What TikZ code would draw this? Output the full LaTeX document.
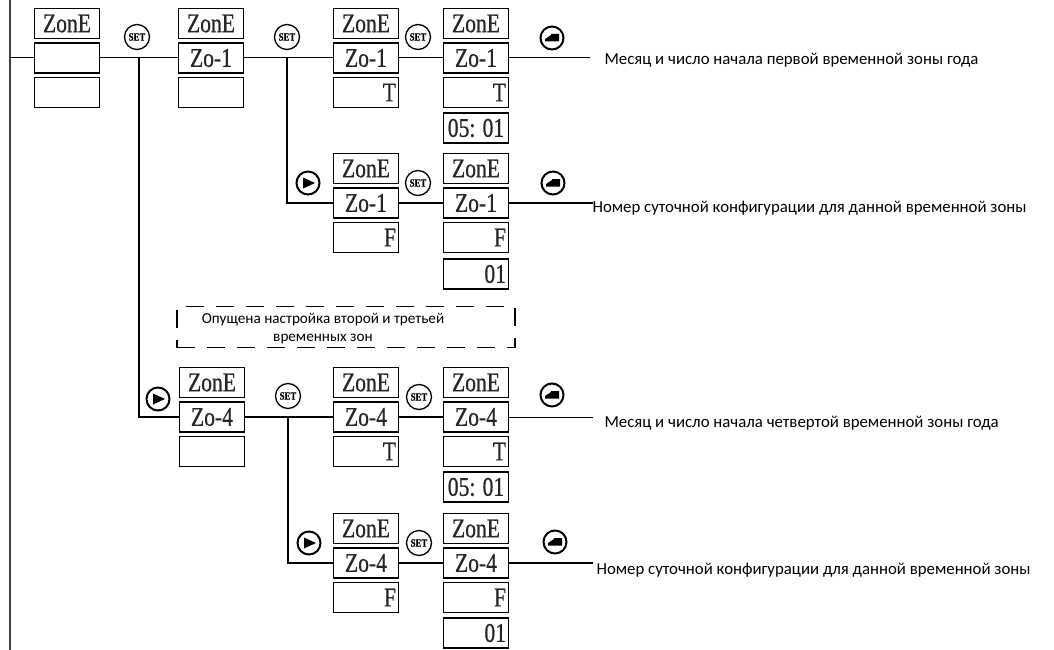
\documentclass[tikz,border=0pt]{standalone}
\usepackage{fontspec}
\setmainfont{Carlito}
\newfontfamily\lcdfont[FakeStretch=0.8,FakeBold=0.6]{Liberation Serif}
\tikzset{
  lcd/.style={draw, line width=1.6pt, minimum width=65pt, minimum height=30pt, inner sep=0pt,
    text=black!85, font=\lcdfont\fontsize{27}{27}\selectfont},
  lcdr/.style={lcd, text width=60pt, align=right},
  setkey/.style={circle, draw, line width=1.3pt, minimum size=25pt, inner sep=0pt,
    font=\lcdfont\bfseries\fontsize{11}{11}\selectfont},
  playkey/.style={circle, draw, line width=2pt, minimum size=23pt, inner sep=0pt,
    path picture={\fill[shift={(path picture bounding box.center)}] (-5,-5.5) -- (7,0) -- (-5,5.5) -- cycle;}},
  retkey/.style={circle, draw, line width=2pt, minimum size=23pt, inner sep=0pt,
    path picture={\fill[shift={(path picture bounding box.center)}] (-7,1) -- (-1,-3) -- (-1,-4) -- (7,-4) -- (7,3.5) -- (-7,3.5) -- cycle;}},
  wire/.style={line width=1pt},
  bus/.style={line width=2pt},
  note/.style={anchor=west, font=\fontsize{16.8}{19}\selectfont},
  skipbox/.style={draw, line width=1.5pt, dash pattern=on 18pt off 12pt, minimum width=338pt, minimum height=41pt}
}
\begin{document}
\begin{tikzpicture}[x=1pt,y=-1pt]
  \useasboundingbox (0,0) rectangle (1054,650);
  % left rail
  \coordinate (railtop) at (10,0);
  \coordinate (railbot) at (10,650);
  \coordinate (railj) at (10,58);
  \draw[line width=1.2pt, black!75] (railtop) -- (railbot);

  % first row
  \begin{scope}[shift={(0,58)}]
    \node[lcd] (z1a) at (67,-34.5) {ZonE};
    \node[lcd] (z1b) at (67,0) {};
    \node[lcd] (z1c) at (67,34.5) {};
    \node[setkey] (s1) at (137,-21) {SET};
    \node[lcd] (z2a) at (211,-34.5) {ZonE};
    \node[lcd] (z2b) at (211,0) {Zo-1};
    \node[lcd] (z2c) at (211,34.5) {};
    \node[setkey] (s2) at (287,-21) {SET};
    \node[lcd] (z3a) at (366,-34.5) {ZonE};
    \node[lcd] (z3b) at (366,0) {Zo-1};
    \node[lcdr] (z3c) at (366,34.5) {T};
    \node[setkey] (s3) at (418,-21) {SET};
    \node[lcd] (z4a) at (476,-34.5) {ZonE};
    \node[lcd] (z4b) at (476,0) {Zo-1};
    \node[lcdr] (z4c) at (476,34.5) {T};
    \node[lcd] (z4d) at (476,70) {05: 01};
    \node[retkey] (r1) at (552,-20) {};
    \coordinate (br1) at (139,0);
    \coordinate (br2) at (287,0);
    \coordinate (out1) at (590,0);
    \node[note] (t1) at (601,2) {Месяц и число начала первой временной зоны года};
  \end{scope}

  % first row, second branch
  \begin{scope}[shift={(0,203)}]
    \node[playkey] (p2) at (308,-20) {};
    \node[lcd] (f3a) at (366,-34.5) {ZonE};
    \node[lcd] (f3b) at (366,0) {Zo-1};
    \node[lcdr] (f3c) at (366,34.5) {F};
    \node[setkey] (s4) at (418,-20) {SET};
    \node[lcd] (f4a) at (476,-34.5) {ZonE};
    \node[lcd] (f4b) at (476,0) {Zo-1};
    \node[lcdr] (f4c) at (476,34.5) {F};
    \node[lcdr] (f4d) at (476,71) {01};
    \node[retkey] (r2) at (553,-20) {};
    \coordinate (out2) at (593,0);
    \node[note] (t2) at (589,5) {Номер суточной конфигурации для данной временной зоны};
  \end{scope}

  % skipped zones
  \node[skipbox] (skip) at (346,327) {};
  \node[align=center, font=\fontsize{15.2}{18}\selectfont] (skiptxt) at (323,329) {Опущена настройка второй и третьей\\временных зон};

  % fourth zone
  \begin{scope}[shift={(0,417)}]
    \node[playkey] (p1) at (158,-18) {};
    \node[lcd] (y2a) at (212,-34.5) {ZonE};
    \node[lcd] (y2b) at (212,0) {Zo-4};
    \node[lcd] (y2c) at (212,34.5) {};
    \node[setkey] (s5) at (288,-21) {SET};
    \node[lcd] (y3a) at (366,-34.5) {ZonE};
    \node[lcd] (y3b) at (366,0) {Zo-4};
    \node[lcdr] (y3c) at (366,34.5) {T};
    \node[setkey] (s6) at (419,-20) {SET};
    \node[lcd] (y4a) at (476,-34.5) {ZonE};
    \node[lcd] (y4b) at (476,0) {Zo-4};
    \node[lcdr] (y4c) at (476,34.5) {T};
    \node[lcd] (y4d) at (476,70) {05: 01};
    \node[retkey] (r3) at (552,-22) {};
    \coordinate (br3) at (288,0);
    \coordinate (out3) at (593,0);
    \node[note] (t3) at (601,6) {Месяц и число начала четвертой временной зоны года};
  \end{scope}

  % fourth zone, second branch
  \begin{scope}[shift={(0,563)}]
    \node[playkey] (p3) at (309,-20) {};
    \node[lcd] (g3a) at (366,-34.5) {ZonE};
    \node[lcd] (g3b) at (366,0) {Zo-4};
    \node[lcdr] (g3c) at (366,34.5) {F};
    \node[setkey] (s7) at (419,-20) {SET};
    \node[lcd] (g4a) at (476,-34.5) {ZonE};
    \node[lcd] (g4b) at (476,0) {Zo-4};
    \node[lcdr] (g4c) at (476,34.5) {F};
    \node[lcdr] (g4d) at (476,70) {01};
    \node[retkey] (r4) at (555,-21) {};
    \coordinate (out4) at (593,0);
    \node[note] (t4) at (593,7) {Номер суточной конфигурации для данной временной зоны};
  \end{scope}

  % connections
  \draw[wire] (railj) -- (z1b) -- (z2b) -- (z3b) -- (z4b) -- (out1);
  \draw[bus] (br1) |- (y2b);
  \draw[bus] (br2) |- (f3b);
  \draw[bus] (f3b) -- (f4b) -- (out2);
  \draw[bus] (y2b) -- (y3b) -- (y4b);
  \draw[wire] (y4b) -- (out3);
  \draw[bus] (br3) |- (g3b);
  \draw[bus] (g3b) -- (g4b) -- (out4);
\end{tikzpicture}
\end{document}
